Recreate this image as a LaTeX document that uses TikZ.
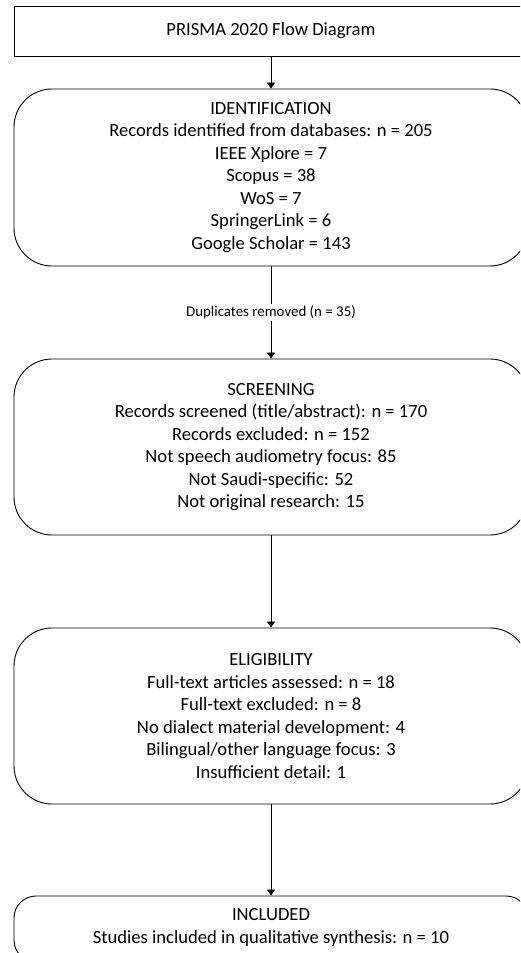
\documentclass[tikz,border=0pt]{standalone}
\usepackage{fontspec}
\setmainfont{Carlito}
\usetikzlibrary{arrows.meta}
\begin{document}
\begin{tikzpicture}[x=1pt,y=1pt,
  box/.style={draw=black,line width=0.9pt,minimum width=514pt,align=center,inner sep=0pt,
    font=\fontsize{18.6}{22.5}\selectfont},
  stagebox/.style={box,rounded corners=38pt},
  conn/.style={line width=0.9pt,-{Triangle[width=8pt,length=6pt]}},
  lbl/.style={fill=white,inner sep=1.5pt,font=\fontsize{14.9}{18}\selectfont}]
\useasboundingbox (0,0) rectangle (520,953);
\clip (0,0) rectangle (520,953);
\node[box,minimum height=50pt] (title) at (271,922) {PRISMA 2020 Flow Diagram};
\node[stagebox,minimum height=177pt] (ident) at (271,775.5) {IDENTIFICATION\\Records identified from databases: n = 205\\IEEE Xplore = 7\\Scopus = 38\\WoS = 7\\SpringerLink = 6\\Google Scholar = 143};
\node[stagebox,minimum height=176pt] (screen) at (271,506) {SCREENING\\Records screened (title/abstract): n = 170\\Records excluded: n = 152\\Not speech audiometry focus: 85\\Not Saudi-specific: 52\\Not original research: 15};
\node[stagebox,minimum height=176pt] (elig) at (271,237) {ELIGIBILITY\\Full-text articles assessed: n = 18\\Full-text excluded: n = 8\\No dialect material development: 4\\Bilingual/other language focus: 3\\Insufficient detail: 1};
\node[box,rounded corners=22pt,minimum height=66pt] (incl) at (271,24) {INCLUDED\\Studies included in qualitative synthesis: n = 10\\[-16pt]\mbox{}};
\draw[conn] (title) -- (ident);
\draw[conn] (ident) -- node[lbl] (dup) {Duplicates removed (n = 35)} (screen);
\draw[conn] (screen) -- (elig);
\draw[conn] (elig) -- (incl);
\end{tikzpicture}
\end{document}
